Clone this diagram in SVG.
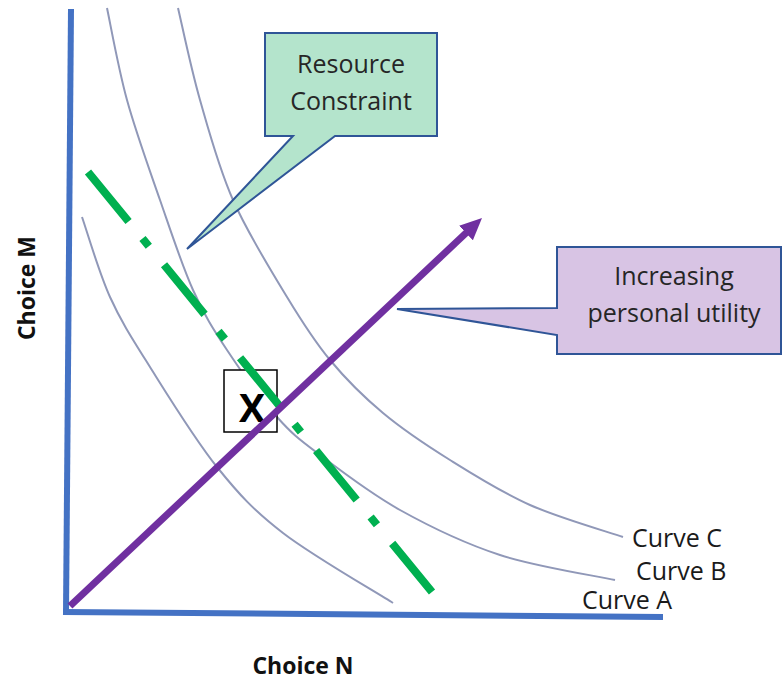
<svg xmlns="http://www.w3.org/2000/svg" width="783" height="682" viewBox="0 0 783 682">
<defs>
<style>
.axis{stroke:#4472C4;stroke-width:6;fill:none;stroke-linecap:butt}
.curve{stroke:#9098B8;stroke-width:2;fill:none}
.budget{stroke:#00B050;stroke-width:8;fill:none;stroke-dasharray:64 22 10 24}
.util{stroke:#7030A0;stroke-width:7;fill:none}
.callout{stroke:#2F5597;stroke-width:2;stroke-linejoin:miter}
.ctext{font-family:"Open Sans","Liberation Sans",sans-serif;font-size:25px;fill:#262626;text-anchor:middle}
.clabel{font-family:"Open Sans","Liberation Sans",sans-serif;font-size:25px;fill:#1a1a1a}
.alabel{font-family:"Open Sans","Liberation Sans",sans-serif;font-size:23px;font-weight:bold;fill:#111;text-anchor:middle}
</style>
<marker id="arrow" viewBox="0 0 22 20" markerUnits="userSpaceOnUse" markerWidth="22" markerHeight="20" refX="4" refY="10" orient="auto">
<path d="M0,0 L22,10 L0,20 Z" fill="#7030A0"/>
</marker>
</defs>
<rect width="783" height="682" fill="#ffffff"/>

<g id="axes">
<path class="axis" d="M71,9 L66,613"/>
<path class="axis" d="M63,612 L663,617"/>
</g>

<g id="curveC">
<path class="curve" d="M178,8 C181.7,23.3 190.8,68 200,100 C209.2,132 218.5,167.2 233,200 C247.5,232.8 270.8,270.3 287,297 C303.2,323.7 314,340.7 330,360 C346,379.3 363,396.3 383,413 C403,429.7 425.5,444.7 450,460 C474.5,475.3 501.2,492.2 530,505 C558.8,517.8 607.5,531.7 623,537"/>
<text class="clabel" x="632" y="547">Curve C</text>
</g>
<g id="curveB">
<path class="curve" d="M107,8 C110.3,23.3 118.2,68 127,100 C135.8,132 149,168.3 160,200 C171,231.7 181.8,265 193,290 C204.2,315 213,328.8 227,350 C241,371.2 261.5,399.5 277,417 C292.5,434.5 299.5,439.5 320,455 C340.5,470.5 370,493.3 400,510 C430,526.7 464.2,543.3 500,555 C535.8,566.7 595.8,575.8 615,580"/>
<text class="clabel" x="636" y="580">Curve B</text>
</g>
<g id="curveA">
<path class="curve" d="M82,217 C86.7,230.3 98.7,272 110,297 C121.3,322 132.2,338.7 150,367 C167.8,395.3 194.8,439.3 217,467 C239.2,494.7 253.7,510.3 283,533 C312.3,555.7 374.7,591.3 393,603"/>
<text class="clabel" x="582" y="609">Curve A</text>
</g>

<g id="pointX">
<rect x="224" y="370" width="53" height="62" fill="#ffffff" stroke="#000000" stroke-width="1.5"/>
<text x="252" y="422" font-family="'Open Sans','Liberation Sans',sans-serif" font-size="39" font-weight="bold" fill="#000" text-anchor="middle">X</text>
</g>

<g id="connectors">
<path id="budget-line" class="budget" d="M88,172 L432,592"/>
<path id="utility-arrow" class="util" d="M70,606 L468.9,230.3" marker-end="url(#arrow)"/>
</g>

<g id="resource-callout">
<path class="callout" fill="#B4E4CC" d="M265,33 H437 V136 H335 L187,249 L293,136 H265 Z"/>
<text class="ctext" x="351" y="73">Resource</text>
<text class="ctext" x="351" y="110">Constraint</text>
</g>

<g id="utility-callout">
<path class="callout" fill="#D8C4E4" d="M557,247 H781 V354 H557 V335 L397,309 L557,308 Z"/>
<text class="ctext" x="674" y="285">Increasing</text>
<text class="ctext" x="674" y="322">personal utility</text>
</g>

<g id="labels">
<text class="alabel" x="303" y="674">Choice N</text>
<text class="alabel" transform="translate(35,288) rotate(-90)" x="0" y="0">Choice M</text>
</g>
</svg>
